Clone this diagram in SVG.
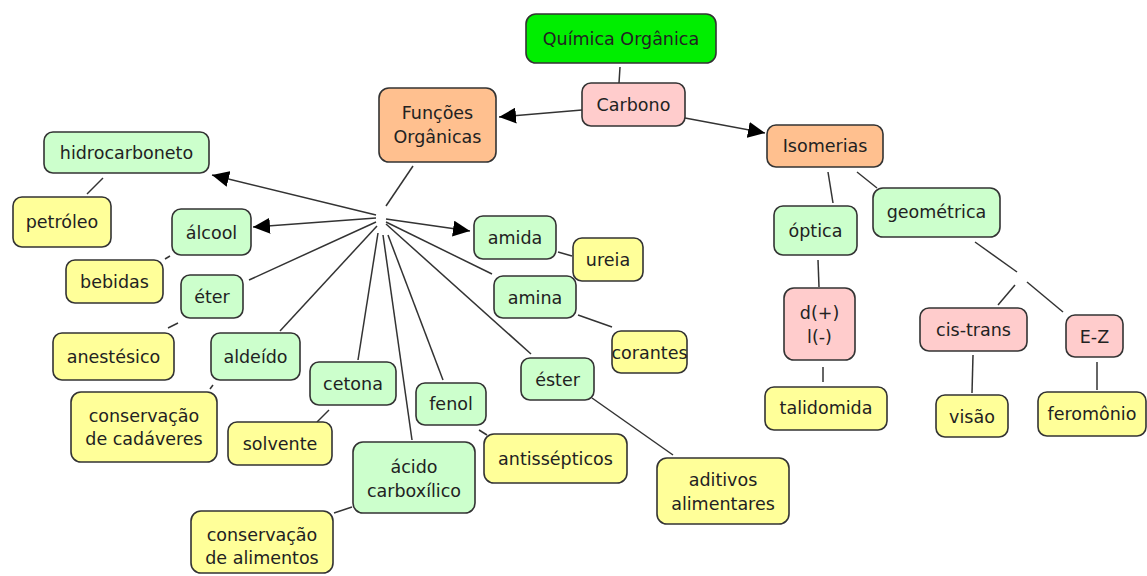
<svg xmlns="http://www.w3.org/2000/svg" width="1147" height="576" viewBox="0 0 1147 576">
<style>
.n rect{stroke:#333;stroke-width:1.6}
.g{fill:#00ee00}.p{fill:#ffcccc}.o{fill:#ffc08f}.l{fill:#ccffcc}.y{fill:#ffff99}
text{font-family:"DejaVu Sans",Verdana,sans-serif;font-size:17.5px;fill:#222;text-anchor:middle;dominant-baseline:central}
.c line{stroke:#333;stroke-width:1.5}
.a{marker-end:url(#ah)}
</style>
<defs>
<marker id="ah" markerUnits="userSpaceOnUse" markerWidth="18" markerHeight="16" refX="17" refY="8" orient="auto">
<path d="M0,0L17,8L0,16z" fill="#000"/>
</marker>
</defs>
<rect width="1147" height="576" fill="#fff"/>
<g class="c">
<line x1="620" y1="67" x2="619" y2="83"/>
<line class="a" x1="582" y1="110" x2="499" y2="117"/>
<line class="a" x1="685" y1="118" x2="765" y2="133"/>
<line x1="828" y1="172" x2="833" y2="203"/>
<line x1="857" y1="172" x2="877" y2="188"/>
<line x1="818" y1="260" x2="819" y2="287"/>
<line x1="823" y1="367" x2="823" y2="382"/>
<line x1="975" y1="242" x2="1017" y2="272"/>
<line x1="1015" y1="285" x2="998" y2="305"/>
<line x1="1027" y1="282" x2="1063" y2="312"/>
<line x1="973" y1="355" x2="972" y2="393"/>
<line x1="1097" y1="362" x2="1097" y2="390"/>
<line x1="413" y1="166" x2="386" y2="206"/>
<line class="a" x1="376" y1="215" x2="212" y2="175"/>
<line class="a" x1="376" y1="218" x2="253" y2="227"/>
<line x1="376" y1="222" x2="249" y2="280"/>
<line x1="377" y1="226" x2="280" y2="331"/>
<line x1="378" y1="233" x2="358" y2="360"/>
<line x1="383" y1="235" x2="412" y2="440"/>
<line x1="388" y1="235" x2="443" y2="380"/>
<line x1="386" y1="224" x2="531" y2="354"/>
<line x1="386" y1="222" x2="492" y2="274"/>
<line class="a" x1="386" y1="219" x2="470" y2="231"/>
<line x1="103" y1="178" x2="87" y2="194"/>
<line x1="170" y1="256" x2="165" y2="259"/>
<line x1="178" y1="323" x2="168" y2="328"/>
<line x1="213" y1="385" x2="210" y2="389"/>
<line x1="329" y1="410" x2="317" y2="422"/>
<line x1="352" y1="507" x2="334" y2="513"/>
<line x1="558" y1="252" x2="572" y2="256"/>
<line x1="578" y1="315" x2="612" y2="327"/>
<line x1="592" y1="398" x2="673" y2="455"/>
<line x1="479" y1="430" x2="487" y2="435"/>
</g>
<g class="n">
<g id="quimica"><rect class="g" x="526" y="14" width="190" height="49" rx="10"/><text x="621" y="39">Química Orgânica</text></g>
<g id="carbono"><rect class="p" x="582" y="83" width="103" height="43" rx="9"/><text x="633.5" y="105">Carbono</text></g>
<g id="funcoes"><rect class="o" x="379" y="88" width="117" height="74" rx="10"/><text x="437.5" y="113">Funções</text><text x="437.5" y="137">Orgânicas</text></g>
<g id="isomerias"><rect class="o" x="767" y="125" width="116" height="42" rx="9"/><text x="825" y="146">Isomerias</text></g>
<g id="optica"><rect class="l" x="774" y="206" width="83" height="49" rx="9"/><text x="815.5" y="231">óptica</text></g>
<g id="geometrica"><rect class="l" x="873" y="188" width="127" height="49" rx="10"/><text x="936.5" y="212">geométrica</text></g>
<g id="dl"><rect class="p" x="784" y="288" width="71" height="72" rx="10"/><text x="819.5" y="313">d(+)</text><text x="819.5" y="337">l(-)</text></g>
<g id="talidomida"><rect class="y" x="765" y="387" width="122" height="43" rx="9"/><text x="826" y="408">talidomida</text></g>
<g id="cistrans"><rect class="p" x="920" y="308" width="107" height="43" rx="9"/><text x="973.5" y="330">cis-trans</text></g>
<g id="ez"><rect class="p" x="1066" y="315" width="57" height="42" rx="9"/><text x="1094.5" y="337">E-Z</text></g>
<g id="visao"><rect class="y" x="936" y="395" width="72" height="42" rx="9"/><text x="972" y="417">visão</text></g>
<g id="feromonio"><rect class="y" x="1038" y="392" width="108" height="44" rx="9"/><text x="1092" y="414">feromônio</text></g>
<g id="hidrocarboneto"><rect class="l" x="44" y="132" width="165" height="41" rx="9"/><text x="126.5" y="153">hidrocarboneto</text></g>
<g id="petroleo"><rect class="y" x="13" y="197" width="98" height="50" rx="9"/><text x="62" y="222">petróleo</text></g>
<g id="alcool"><rect class="l" x="172" y="209" width="79" height="46" rx="9"/><text x="211.5" y="233">álcool</text></g>
<g id="bebidas"><rect class="y" x="66" y="260" width="97" height="43" rx="9"/><text x="114.5" y="282">bebidas</text></g>
<g id="eter"><rect class="l" x="181" y="275" width="62" height="43" rx="9"/><text x="212" y="297">éter</text></g>
<g id="anestesico"><rect class="y" x="53" y="333" width="121" height="47" rx="9"/><text x="113.5" y="357">anestésico</text></g>
<g id="aldeido"><rect class="l" x="211" y="333" width="89" height="47" rx="9"/><text x="255.5" y="357">aldeído</text></g>
<g id="cadaveres"><rect class="y" x="71" y="392" width="146" height="70" rx="10"/><text x="144" y="416">conservação</text><text x="144" y="439">de cadáveres</text></g>
<g id="cetona"><rect class="l" x="310" y="362" width="86" height="43" rx="9"/><text x="353" y="384">cetona</text></g>
<g id="solvente"><rect class="y" x="228" y="422" width="104" height="43" rx="9"/><text x="280" y="444">solvente</text></g>
<g id="acido"><rect class="l" x="353" y="442" width="122" height="71" rx="10"/><text x="414" y="467">ácido</text><text x="414" y="491">carboxílico</text></g>
<g id="alimentos"><rect class="y" x="191" y="511" width="142" height="62" rx="10"/><text x="262" y="535">conservação</text><text x="262" y="558">de alimentos</text></g>
<g id="amida"><rect class="l" x="474" y="216" width="82" height="43" rx="9"/><text x="515" y="238">amida</text></g>
<g id="ureia"><rect class="y" x="573" y="238" width="70" height="43" rx="9"/><text x="608" y="260">ureia</text></g>
<g id="amina"><rect class="l" x="494" y="276" width="82" height="42" rx="9"/><text x="535" y="298">amina</text></g>
<g id="corantes"><rect class="y" x="612" y="331" width="75" height="42" rx="9"/><text x="649.5" y="353">corantes</text></g>
<g id="ester"><rect class="l" x="521" y="358" width="73" height="42" rx="9"/><text x="557.5" y="380">éster</text></g>
<g id="fenol"><rect class="l" x="416" y="383" width="70" height="42" rx="9"/><text x="451" y="404">fenol</text></g>
<g id="antissepticos"><rect class="y" x="484" y="434" width="143" height="49" rx="10"/><text x="555.5" y="459">antissépticos</text></g>
<g id="aditivos"><rect class="y" x="657" y="458" width="132" height="66" rx="10"/><text x="723" y="480">aditivos</text><text x="723" y="504">alimentares</text></g>
</g>
</svg>
